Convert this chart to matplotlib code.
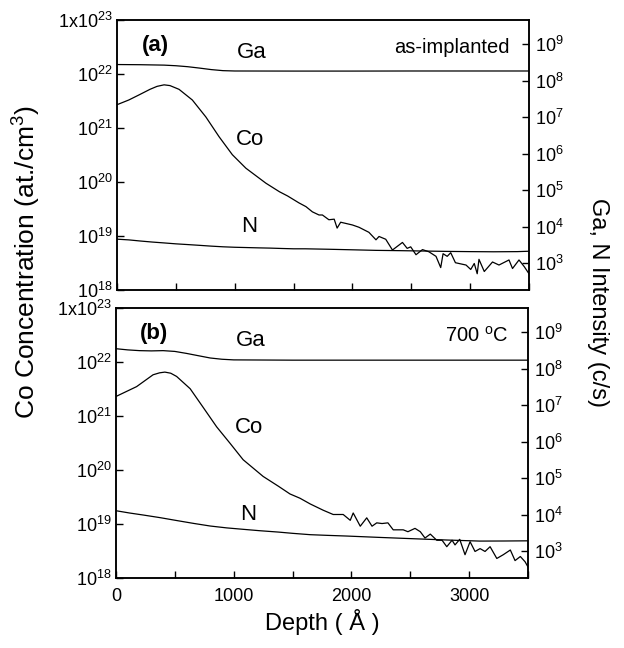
import matplotlib
matplotlib.use('Agg')
import matplotlib.pyplot as plt
from matplotlib.ticker import NullLocator

plt.rcParams['font.family'] = ['Liberation Sans', 'DejaVu Sans']
plt.rcParams['mathtext.fontset'] = 'custom'
plt.rcParams['mathtext.rm'] = 'Liberation Sans'
plt.rcParams['mathtext.it'] = 'Liberation Sans:italic'
plt.rcParams['mathtext.bf'] = 'Liberation Sans:bold'
plt.rcParams['mathtext.default'] = 'regular'

# ---------------- data ----------------
# Panel (a): as-implanted
co_a_depth = [0, 100, 187, 280, 340, 400, 450, 527, 640, 755, 867, 980, 1095, 1265, 1380, 1450,
              1546, 1605, 1660, 1716, 1745, 1800, 1845, 1870, 1900, 2000, 2056, 2140, 2200,
              2226, 2283, 2340, 2425, 2465, 2495, 2540, 2595, 2650, 2710, 2750, 2770, 2805,
              2835, 2875, 2965, 3005, 3035, 3060, 3075, 3120, 3190, 3245, 3330, 3360, 3415,
              3460, 3500]
co_a = [2.7e21, 3.3e21, 4.1e21, 5.2e21, 5.9e21, 6.3e21, 6.1e21, 5.2e21, 3.3e21, 1.6e21, 6.9e20,
        3.2e20, 1.8e20, 9.5e19, 6.6e19, 5.5e19, 4.1e19, 3.5e19, 2.8e19, 2.45e19, 2.45e19,
        2.0e19, 2.05e19, 1.4e19, 1.8e19, 1.6e19, 1.45e19, 1.17e19, 8.5e18, 9.8e18, 8.7e18,
        5.5e18, 7.6e18, 5.9e18, 6.3e18, 4.5e18, 5.6e18, 5.1e18, 4.2e18, 2.6e18, 4.7e18,
        4.2e18, 4.9e18, 3.2e18, 2.9e18, 2.4e18, 3.1e18, 2.0e18, 3.7e18, 2.2e18, 3.3e18,
        2.9e18, 3.6e18, 2.5e18, 3.6e18, 2.7e18, 2.0e18]
ga_a_depth = [0, 200, 400, 500, 600, 700, 800, 900, 1000, 1500, 2000, 2500, 3000, 3500]
ga_a = [2.75e8, 2.72e8, 2.65e8, 2.55e8, 2.4e8, 2.2e8, 2.0e8, 1.87e8, 1.83e8, 1.82e8,
        1.82e8, 1.83e8, 1.83e8, 1.83e8]
n_a_depth = [0, 100, 200, 300, 400, 500, 600, 700, 800, 900, 1000, 1100, 1200, 1300, 1400,
             1500, 1600, 1800, 2000, 2200, 2400, 2600, 2800, 3000, 3200, 3400, 3500]
n_a = [4500, 4300, 4000, 3750, 3550, 3350, 3200, 3050, 2900, 2780, 2700, 2650, 2600, 2560,
       2500, 2450, 2450, 2380, 2300, 2220, 2180, 2130, 2080, 2050, 2030, 2050, 2100]

# Panel (b): 700 C anneal
co_b_depth = [0, 175, 315, 370, 415, 465, 515, 630, 740, 855, 970, 1080, 1250, 1380, 1478, 1563, 1650,
              1760, 1845, 1930, 1990, 2015, 2075, 2130, 2175, 2215, 2260, 2310, 2355, 2440,
              2480, 2540, 2585, 2625, 2670, 2725, 2770, 2810, 2855, 2880, 2920, 2965, 3008,
              3050, 3093, 3135, 3178, 3235, 3290, 3350, 3390, 3435, 3475, 3500]
co_b = [2.3e21, 3.5e21, 5.8e21, 6.3e21, 6.5e21, 6.2e21, 5.4e21, 3.2e21, 1.45e21, 6.3e20, 3.1e20, 1.55e20,
        7.6e19, 5.0e19, 3.6e19, 3.0e19, 2.35e19, 1.8e19, 1.5e19, 1.5e19, 1.17e19, 1.6e19,
        9.1e18, 1.3e19, 9.1e18, 1.05e19, 1.02e19, 1.05e19, 7.8e18, 7.8e18, 7.2e18, 8.3e18,
        7.2e18, 5.5e18, 6.5e18, 5.0e18, 5.0e18, 3.8e18, 5.0e18, 4.1e18, 5.2e18, 2.7e18,
        4.7e18, 3.1e18, 3.5e18, 3.1e18, 3.8e18, 2.3e18, 2.7e18, 3.3e18, 2.1e18, 2.5e18,
        2.0e18, 1.6e18]
ga_b_depth = [0, 100, 200, 300, 400, 500, 600, 700, 800, 900, 1000, 1500, 2000, 2500, 3000, 3500]
ga_b = [3.5e8, 3.25e8, 3.1e8, 3.05e8, 3.1e8, 2.95e8, 2.6e8, 2.25e8, 1.95e8, 1.8e8, 1.73e8,
        1.7e8, 1.7e8, 1.7e8, 1.7e8, 1.7e8]
n_b_depth = [0, 115, 230, 375, 520, 660, 800, 940, 1080, 1220, 1380, 1500, 1650, 1800, 1960,
             2250, 2525, 2810, 3090, 3300, 3500]
n_b = [12700, 11000, 9700, 8200, 6800, 5700, 4840, 4300, 3930, 3600, 3300, 3050, 2800, 2680,
       2570, 2350, 2170, 2000, 1870, 1880, 1900]

x_ticks = [0, 500, 1000, 1500, 2000, 2500, 3000, 3500]
x_labels = ['0', '', '1000', '', '2000', '', '3000', '']
left_ticks = [1e18, 1e19, 1e20, 1e21, 1e22, 1e23]
left_labels = ['10$^{18}$', '10$^{19}$', '10$^{20}$', '10$^{21}$', '10$^{22}$', '1x10$^{23}$']
right_ticks = [1e3, 1e4, 1e5, 1e6, 1e7, 1e8, 1e9]
right_labels = ['10$^{3}$', '10$^{4}$', '10$^{5}$', '10$^{6}$', '10$^{7}$', '10$^{8}$', '10$^{9}$']

# ---------------- figure ----------------
W, H = 624, 648
fig = plt.figure(figsize=(W / 100, H / 100), dpi=100)
axA = fig.add_axes([117 / W, 1 - 290 / H, 412 / W, 270 / H])
axB = fig.add_axes([116 / W, 1 - 578 / H, 412 / W, 270 / H])

panels = [
    (axA, co_a_depth, co_a, ga_a_depth, ga_a, n_a_depth, n_a, '(a)', 'as-implanted', False),
    (axB, co_b_depth, co_b, ga_b_depth, ga_b, n_b_depth, n_b, '(b)', '700 $^{o}$C', True),
]

for ax, cd, cv, gd, gv, nd, nv, tag, cond, show_x in panels:
    ax.set_yscale('log')
    ax.set_xlim(0, 3500)
    ax.set_ylim(1e18, 1e23)
    ax.plot(cd, cv, color='black', lw=0.9)
    ax.set_xticks(x_ticks)
    ax.set_xticklabels(x_labels if show_x else [''] * len(x_ticks))
    ax.set_yticks(left_ticks)
    ax.set_yticklabels(left_labels)
    ax.yaxis.set_minor_locator(NullLocator())
    ax.tick_params(axis='both', which='major', direction='in', length=5, width=1,
                   labelsize=13, top=False, right=False)
    ax.tick_params(axis='x', pad=7)
    ax.tick_params(axis='y', pad=3)
    for s in ax.spines.values():
        s.set_linewidth(1.1)

    tw = ax.twinx()
    tw.set_yscale('log')
    tw.set_ylim(10 ** 2.26, 10 ** 9.66)
    tw.plot(gd, gv, color='black', lw=0.9)
    tw.plot(nd, nv, color='black', lw=0.9)
    tw.set_yticks(right_ticks)
    tw.set_yticklabels(right_labels)
    tw.yaxis.set_minor_locator(NullLocator())
    tw.tick_params(axis='y', which='major', direction='in', length=5, width=1,
                   labelsize=13, pad=4)
    for s in tw.spines.values():
        s.set_linewidth(1.1)

    ax.text(0.093, 0.907, tag, transform=ax.transAxes, fontsize=16, fontweight='bold',
            ha='center', va='center')
    ax.text(0.952, 0.898, cond, transform=ax.transAxes, fontsize=14.5,
            ha='right', va='center')
    ax.text(0.327, 0.878, 'Ga', transform=ax.transAxes, fontsize=16, ha='center', va='center')
    ax.text(0.323, 0.557, 'Co', transform=ax.transAxes, fontsize=16, ha='center', va='center')
    ax.text(0.320, 0.237, 'N', transform=ax.transAxes, fontsize=16, ha='center', va='center')

axB.set_xlabel('Depth ( Å )', fontsize=17, labelpad=3)
fig.text(27 / W, 1 - 262 / H, 'Co Concentration (at./cm$^{3}$)', rotation=90,
         fontsize=19, ha='center', va='center')
fig.text(598 / W, 1 - 302 / H, 'Ga, N Intensity (c/s)', rotation=270,
         fontsize=17, ha='center', va='center')

fig.savefig('out.png', dpi=100)
